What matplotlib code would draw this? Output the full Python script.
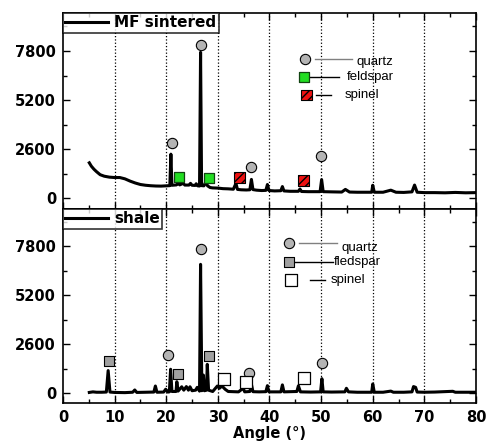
import numpy as np
import matplotlib
matplotlib.use('Agg')
import matplotlib.pyplot as plt
from matplotlib.ticker import MultipleLocator

# MF sintered pattern (angle, intensity)
ang_mf = [5.1, 5.5, 6.0, 6.5, 7.2, 8.0, 9.0, 10.0, 11.0, 12.0, 13.0, 14.0, 15.0, 16.0, 17.0,
          18.0, 19.0, 20.0, 20.7, 20.9, 21.1, 21.6, 22.0, 22.3, 22.6, 23.3, 23.6, 24.4, 24.7,
          25.0, 25.6, 25.8, 26.1, 26.45, 26.65, 26.85, 27.3, 27.7, 28.0, 28.5, 29.0, 30.0,
          31.0, 32.0, 33.0, 33.5, 33.8, 34.5, 35.5, 36.2, 36.5, 36.8, 37.5, 38.5, 39.3, 39.6,
          39.9, 41.0, 42.2, 42.5, 42.8, 44.0, 45.6, 45.9, 46.2, 47.5, 49.8, 50.1, 50.4, 52.0,
          54.0, 54.7, 55.5, 57.0, 59.8, 60.0, 60.3, 62.0, 63.5, 64.5, 66.0, 67.6, 68.1, 68.6,
          70.0, 72.0, 74.0, 76.0, 78.0, 80.0]
int_mf = [1870, 1690, 1530, 1400, 1240, 1160, 1110, 1090, 1090, 1020, 900, 800, 720, 680, 655,
          640, 635, 650, 660, 2330, 680, 690, 700, 790, 700, 780, 690, 690, 780,
          680, 670, 760, 650, 640, 7730, 660, 650, 870, 650, 560, 540, 530,
          500, 490, 470, 780, 460, 440, 430, 440, 990, 450, 420, 400, 410, 720,
          400, 380, 390, 610, 380, 360, 360, 480, 350, 340, 340, 980, 340, 330,
          320, 460, 320, 310, 310, 680, 310, 310, 420, 310, 300, 330, 690, 310,
          290, 290, 280, 300, 280, 290]

# shale pattern
ang_sh = [5.1, 5.8, 6.5, 7.5, 8.4, 8.75, 9.1, 10.0, 12.0, 13.5, 13.9, 14.3, 16.0, 17.6, 17.9,
          18.2, 19.5, 19.9, 20.3, 20.6, 20.85, 21.1, 21.9, 22.05, 22.3, 23.0, 23.4, 23.9, 24.3,
          24.6, 25.0, 25.7, 26.0, 26.45, 26.65, 26.9, 27.2, 27.4, 27.8, 27.95, 28.2, 29.0,
          29.9, 30.3, 30.8, 31.4, 32.0, 34.0, 34.9, 35.2, 36.2, 36.5, 36.8, 38.0, 39.3, 39.6,
          39.9, 42.2, 42.5, 42.8, 45.3, 45.6, 46.0, 48.0, 49.9, 50.15, 50.4, 52.0, 54.6, 54.9,
          55.3, 57.0, 59.8, 60.0, 60.3, 62.0, 63.5, 64.0, 66.0, 67.6, 67.9, 68.3, 68.6, 70.0,
          72.0, 75.5, 76.0, 78.0, 80.0]
int_sh = [30, 60, 40, 40, 50, 1190, 50, 30, 20, 40, 160, 30, 40, 50, 370,
          40, 50, 200, 50, 60, 1260, 80, 80, 600, 100, 330, 150, 340, 150,
          330, 120, 150, 300, 100, 6830, 120, 950, 120, 150, 1520, 150, 80,
          370, 250, 370, 200, 80, 60, 250, 60, 80, 460, 70, 60, 70, 390,
          60, 60, 430, 60, 80, 380, 60, 50, 60, 760, 60, 50, 60, 250,
          60, 40, 40, 480, 40, 40, 100, 40, 40, 60, 340, 300, 50, 40,
          50, 90, 40, 40, 40]

# phase markers, MF sintered
mf_quartz_x = [21.05, 26.7, 36.35, 49.9]
mf_quartz_y = [2936, 8118, 1663, 2229]
mf_feld_x = [22.5, 28.2]
mf_feld_y = [1132, 1043]
mf_spin_x = [34.15, 46.55]
mf_spin_y = [1079, 919]

# phase markers, shale
sh_quartz_x = [20.4, 26.7, 36.0, 50.2]
sh_quartz_y = [2016, 7625, 1043, 1610]
sh_feld_x = [8.85, 22.3, 28.2]
sh_feld_y = [1698, 992, 1980]
sh_spin_x = [31.2, 35.4, 46.7]
sh_spin_y = [743, 566, 778]

yticks = [0, 2600, 5200, 7800]
grid_x = [10, 20, 30, 40, 50, 60, 70]

plt.rcParams['font.family'] = ['DejaVu Sans']
plt.rcParams['hatch.linewidth'] = 1.0

fig = plt.figure(figsize=(4.89, 4.43), dpi=100)
ax1 = fig.add_axes([0.1288, 0.528, 0.8446, 0.4427])
ax2 = fig.add_axes([0.1288, 0.0903, 0.8446, 0.4377])

quartz_kw = dict(marker='o', s=55, facecolor='#b4b4b4', edgecolor='black', linewidth=0.8, zorder=4)


def style_axis(ax, ylim):
    ax.set_xlim(0, 80)
    ax.set_ylim(*ylim)
    ax.set_yticks(yticks)
    ax.yaxis.set_minor_locator(MultipleLocator(1300))
    ax.xaxis.set_major_locator(MultipleLocator(10))
    ax.xaxis.set_minor_locator(MultipleLocator(5))
    ax.tick_params(which='both', direction='in', top=True, right=True)
    ax.tick_params(which='major', length=5, width=1, labelsize=10.5, pad=5)
    ax.tick_params(which='minor', length=3, width=1)
    for lab in ax.get_yticklabels() + ax.get_xticklabels():
        lab.set_fontweight('bold')
    for sp in ax.spines.values():
        sp.set_linewidth(1.2)
    for g in grid_x:
        ax.axvline(g, color='black', linestyle=':', linewidth=0.9, zorder=1)


# top panel
ax1.plot(ang_mf, int_mf, color='black', linewidth=2.2, label='MF sintered', zorder=3)
ax1.scatter(mf_quartz_x, mf_quartz_y, **quartz_kw)
ax1.scatter(mf_feld_x, mf_feld_y, marker='s', s=50, facecolor='#22dd22', edgecolor='#114411',
            linewidth=0.9, zorder=4)
ax1.scatter(mf_spin_x, mf_spin_y, marker='s', s=60, facecolor='#ee1111', edgecolor='black',
            hatch='////', linewidth=0.8, zorder=4)
style_axis(ax1, (-584, 9816))
ax1.tick_params(labelbottom=False)

# key inside the top panel
ax1.scatter([46.9], [7376], **quartz_kw)
ax1.plot([48.8, 56.0], [7376, 7376], color='gray', linewidth=1)
ax1.text(56.8, 7217, 'quartz', family='Liberation Sans', fontsize=9.5, va='center')
ax1.scatter([46.7], [6420], marker='s', s=50, facecolor='#22dd22', edgecolor='#114411',
            linewidth=0.9, zorder=4)
ax1.plot([47.2, 53.5], [6420, 6420], color='black', linewidth=1)
ax1.text(55.0, 6420, 'feldspar', family='Liberation Sans', fontsize=9.5, va='center')
ax1.scatter([47.1], [5465], marker='s', s=60, facecolor='#ee1111', edgecolor='black',
            hatch='////', linewidth=0.8, zorder=4)
ax1.plot([49.0, 51.9], [5465, 5465], color='black', linewidth=1)
ax1.text(54.6, 5465, 'spinel', family='Liberation Sans', fontsize=9.5, va='center')

leg1 = ax1.legend(loc='upper left', borderaxespad=0, fancybox=False, handlelength=2.8,
                  borderpad=0.15, handletextpad=0.4,
                  prop={'weight': 'bold', 'size': 11})
leg1.get_frame().set_edgecolor('black')
leg1.get_frame().set_linewidth(1.2)

# bottom panel
ax2.plot(ang_sh, int_sh, color='black', linewidth=2.2, label='shale', zorder=3)
ax2.scatter(sh_quartz_x, sh_quartz_y, **quartz_kw)
ax2.scatter(sh_feld_x, sh_feld_y, marker='s', s=55, facecolor='#a0a0a0', edgecolor='black',
            linewidth=0.8, zorder=4)
ax2.scatter(sh_spin_x, sh_spin_y, marker='s', s=75, facecolor='white', edgecolor='black',
            linewidth=0.9, zorder=4)
style_axis(ax2, (-531, 9763))

ax2.scatter([43.8], [7959], **quartz_kw)
ax2.plot([45.8, 53.1], [7959, 7959], color='gray', linewidth=1)
ax2.text(53.9, 7694, 'quartz', family='Liberation Sans', fontsize=9.5, va='center')
ax2.scatter([43.8], [6951], marker='s', s=55, facecolor='#a0a0a0', edgecolor='black',
            linewidth=0.8, zorder=4)
ax2.plot([44.0, 52.3], [6951, 6951], color='black', linewidth=1)
ax2.text(52.5, 6951, 'fledspar', family='Liberation Sans', fontsize=9.5, va='center')
ax2.scatter([44.2], [5996], marker='s', s=75, facecolor='white', edgecolor='black',
            linewidth=0.9, zorder=4)
ax2.plot([47.8, 50.7], [5996, 5996], color='black', linewidth=1)
ax2.text(51.9, 5996, 'spinel', family='Liberation Sans', fontsize=9.5, va='center')

leg2 = ax2.legend(loc='upper left', borderaxespad=0, fancybox=False, handlelength=2.8,
                  borderpad=0.15, handletextpad=0.4,
                  prop={'weight': 'bold', 'size': 11})
leg2.get_frame().set_edgecolor('black')
leg2.get_frame().set_linewidth(1.2)

ax2.set_xlabel('Angle (°)', fontsize=10.5, fontweight='bold', labelpad=1)

fig.savefig('out.png', dpi=100)
